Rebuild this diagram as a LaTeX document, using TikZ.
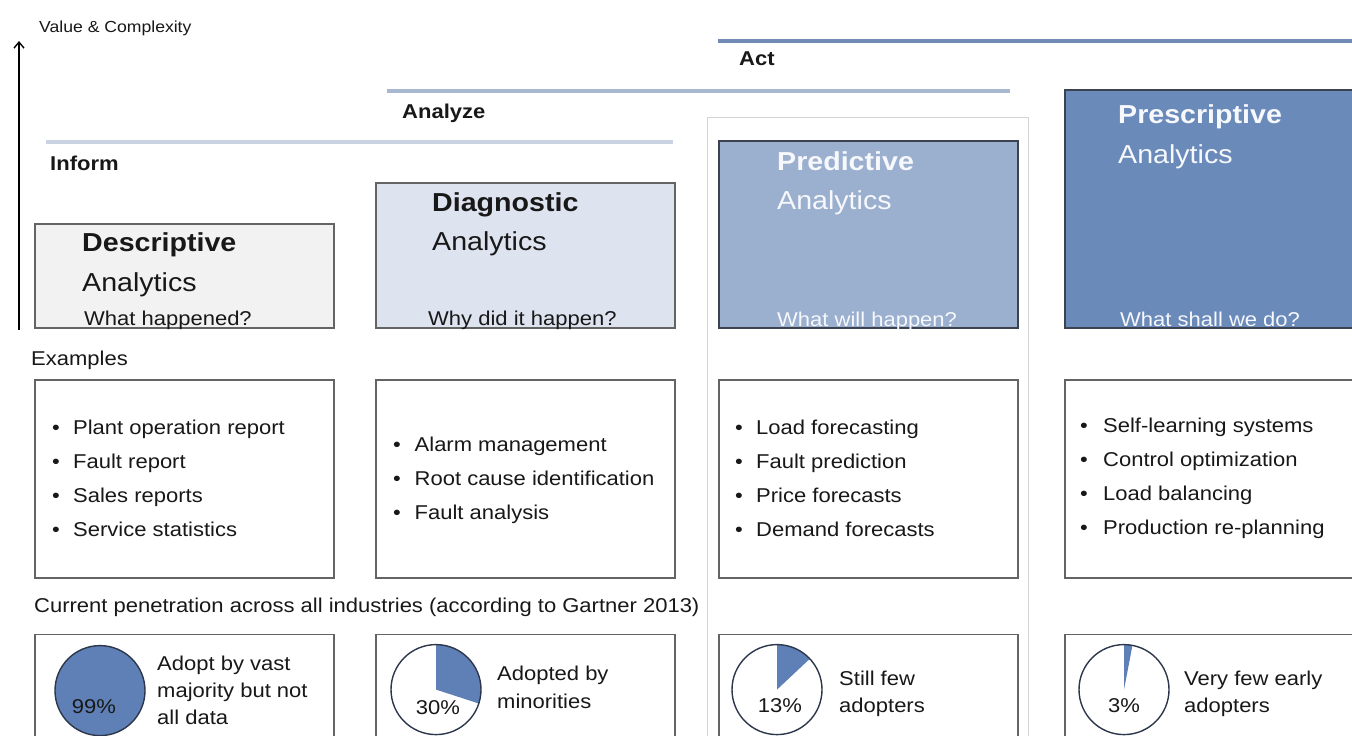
\documentclass[tikz,border=0pt]{standalone}
\usepackage{fontspec}
\setmainfont{Liberation Sans}[FakeStretch=1.1]
\usepackage{tikz}
\usetikzlibrary{arrows.meta,positioning}
\definecolor{ink}{RGB}{24,24,24}
\definecolor{frame}{RGB}{100,100,100}
\definecolor{darkframe}{RGB}{60,66,80}
\definecolor{descfill}{RGB}{242,242,242}
\definecolor{diagfill}{RGB}{221,227,239}
\definecolor{predfill}{RGB}{155,175,207}
\definecolor{prescfill}{RGB}{106,138,186}
\definecolor{informbar}{RGB}{201,211,226}
\definecolor{analyzebar}{RGB}{167,184,208}
\definecolor{actbar}{RGB}{112,140,180}
\definecolor{piefill}{RGB}{95,128,182}
\definecolor{pieline}{RGB}{45,55,75}
\definecolor{colframe}{RGB}{212,212,212}
\definecolor{paletext}{RGB}{246,248,252}
\newcommand{\titlefont}{\fontsize{26}{31}\selectfont}
\newcommand{\bodyfont}{\fontsize{20}{24}\selectfont}

\begin{document}
\begin{tikzpicture}[x=1pt,y=1pt,>=Latex,every node/.style={inner sep=0pt,text=ink},
  headbox/.style={draw=frame,line width=1.6pt,anchor=south west,minimum width=299pt},
  listbox/.style={draw=frame,line width=1.6pt,minimum width=299pt,minimum height=198pt},
  sharebox/.style={draw=frame,line width=1.6pt,minimum width=299pt,minimum height=112pt},
  bar/.style={line width=4.5pt},
  headtext/.style={anchor=base west,font=\titlefont},
  stagetext/.style={anchor=base west,font=\bodyfont\bfseries},
  labeltext/.style={anchor=base west,font=\bodyfont},
  item/.style={anchor=base west,font=\bodyfont}]
  \useasboundingbox (0,0) rectangle (1352,-736);
  \fill[white] (0,0) rectangle (1352,-736);

  % axis
  \coordinate (axisbase) at (19,-330);
  \coordinate (axistip) at (19,-41);
  \draw[line width=1.4pt,-{Straight Barb[length=6pt,width=10pt]}] (axisbase) -- (axistip);
  \node[anchor=base west,font=\fontsize{16}{19}\selectfont] (axislabel) at (39,-32) {Value \& Complexity};

  % stage bars
  \draw[bar,informbar] (46,-142) -- (673,-142);
  \draw[bar,analyzebar] (387,-91) -- (1010,-91);
  \draw[bar,actbar] (718,-41) -- (1360,-41);
  \node[stagetext] (inform) at (50,-170) {Inform};
  \node[stagetext] (analyze) at (402,-118) {Analyze};
  \node[stagetext] (act) at (739,-65) {Act};

  % predictive column frame
  \node[draw=colframe,line width=1pt,anchor=north west,minimum width=321pt,minimum height=660pt] (predcol) at (707,-117) {};

  % analytics boxes
  \node[headbox,fill=descfill,minimum height=104pt] (desc) at (34,-329) {};
  \node[headbox,fill=diagfill,minimum height=145pt] (diag) at (375,-329) {};
  \node[headbox,draw=darkframe,fill=predfill,minimum height=187pt] (pred) at (718,-329) {};
  \node[headbox,draw=darkframe,fill=prescfill,minimum height=238pt] (presc) at (1064,-329) {};

  \node[headtext,font=\titlefont\bfseries] (desct) at ([xshift=48pt,yshift=-28pt]desc.north west) {Descriptive};
  \node[headtext] (desca) at ([xshift=48pt,yshift=-68pt]desc.north west) {Analytics};
  \node[labeltext] (descq) at ([xshift=50pt,yshift=4pt]desc.south west) {What happened?};
  \node[headtext,font=\titlefont\bfseries] (diagt) at ([xshift=57pt,yshift=-29pt]diag.north west) {Diagnostic};
  \node[headtext] (diaga) at ([xshift=57pt,yshift=-68pt]diag.north west) {Analytics};
  \node[labeltext] (diagq) at ([xshift=53pt,yshift=4pt]diag.south west) {Why did it happen?};
  \node[headtext,font=\titlefont\bfseries,text=paletext] (predt) at ([xshift=59pt,yshift=-30pt]pred.north west) {Predictive};
  \node[headtext,text=paletext] (preda) at ([xshift=59pt,yshift=-69pt]pred.north west) {Analytics};
  \node[labeltext,text=paletext] (predq) at ([xshift=59pt,yshift=3pt]pred.south west) {What will happen?};
  \node[headtext,font=\titlefont\bfseries,text=paletext] (presct) at ([xshift=54pt,yshift=-34pt]presc.north west) {Prescriptive};
  \node[headtext,text=paletext] (presca) at ([xshift=54pt,yshift=-74pt]presc.north west) {Analytics};
  \node[labeltext,text=paletext] (prescq) at ([xshift=56pt,yshift=3pt]presc.south west) {What shall we do?};

  % examples
  \node[labeltext] (examples) at (31,-365) {Examples};
  \node[listbox,below=50pt of desc] (ex1) {};
  \node[listbox,below=50pt of diag] (ex2) {};
  \node[listbox,below=50pt of pred] (ex3) {};
  \node[listbox,below=50pt of presc] (ex4) {};
  \foreach \txt [count=\i] in {Plant operation report,Fault report,Sales reports,Service statistics}
    \node[item] (exa\i) at ([xshift=18pt,yshift={-55pt-34.3pt*(\i-1)}]ex1.north west) {\makebox[21pt][l]{\textbullet}\txt};
  \foreach \txt [count=\i] in {Alarm management,Root cause identification,Fault analysis}
    \node[item] (exb\i) at ([xshift=18pt,yshift={-72pt-34.3pt*(\i-1)}]ex2.north west) {\makebox[21.5pt][l]{\textbullet}\txt};
  \foreach \txt [count=\i] in {Load forecasting,Fault prediction,Price forecasts,Demand forecasts}
    \node[item] (exc\i) at ([xshift=17pt,yshift={-55pt-34.3pt*(\i-1)}]ex3.north west) {\makebox[21pt][l]{\textbullet}\txt};
  \foreach \txt [count=\i] in {Self-learning systems,Control optimization,Load balancing,Production re-planning}
    \node[item] (exd\i) at ([xshift=16pt,yshift={-53pt-34.3pt*(\i-1)}]ex4.north west) {\makebox[23pt][l]{\textbullet}\txt};

  % penetration
  \node[labeltext] (penetration) at (34,-612) {Current penetration across all industries (according to Gartner 2013)};
  \node[sharebox,below=55pt of ex1] (share1) {};
  \node[sharebox,below=55pt of ex2] (share2) {};
  \node[sharebox,below=55pt of ex3] (share3) {};
  \node[sharebox,below=55pt of ex4] (share4) {};

  \coordinate (pie1) at ([xshift=66pt,yshift=-57pt]share1.north west);
  \coordinate (pie2) at ([xshift=61pt,yshift=-56pt]share2.north west);
  \coordinate (pie3) at ([xshift=59pt,yshift=-56pt]share3.north west);
  \coordinate (pie4) at ([xshift=60pt,yshift=-56pt]share4.north west);
  \fill[piefill] (pie1) circle[radius=45];
  \fill[piefill] (pie2) -- ++(0,45) arc[start angle=90,end angle=-18,radius=45] -- cycle;
  \fill[piefill] (pie3) -- ++(0,45) arc[start angle=90,end angle=43.2,radius=45] -- cycle;
  \fill[piefill] (pie4) -- ++(0,45) arc[start angle=90,end angle=79.2,radius=45] -- cycle;
  \foreach \p in {pie1,pie2,pie3,pie4}
    \draw[pieline,line width=1.4pt] (\p) circle[radius=45];

  \node[labeltext,anchor=base] (pct1) at ([xshift=-6pt,yshift=-23pt]pie1) {99\%};
  \node[labeltext,anchor=base] (pct2) at ([xshift=2pt,yshift=-25pt]pie2) {30\%};
  \node[labeltext,anchor=base] (pct3) at ([xshift=3pt,yshift=-23pt]pie3) {13\%};
  \node[labeltext,anchor=base] (pct4) at ([xshift=0pt,yshift=-23pt]pie4) {3\%};

  \node[labeltext] (lab1a) at ([xshift=123pt,yshift=-37pt]share1.north west) {Adopt by vast};
  \node[labeltext] (lab1b) at ([xshift=123pt,yshift=-64pt]share1.north west) {majority but not};
  \node[labeltext] (lab1c) at ([xshift=123pt,yshift=-91pt]share1.north west) {all data};
  \node[labeltext] (lab2a) at ([xshift=122pt,yshift=-47pt]share2.north west) {Adopted by};
  \node[labeltext] (lab2b) at ([xshift=122pt,yshift=-75pt]share2.north west) {minorities};
  \node[labeltext] (lab3a) at ([xshift=121pt,yshift=-52pt]share3.north west) {Still few};
  \node[labeltext] (lab3b) at ([xshift=121pt,yshift=-79pt]share3.north west) {adopters};
  \node[labeltext] (lab4a) at ([xshift=120pt,yshift=-52pt]share4.north west) {Very few early};
  \node[labeltext] (lab4b) at ([xshift=120pt,yshift=-79pt]share4.north west) {adopters};
\end{tikzpicture}
\end{document}
